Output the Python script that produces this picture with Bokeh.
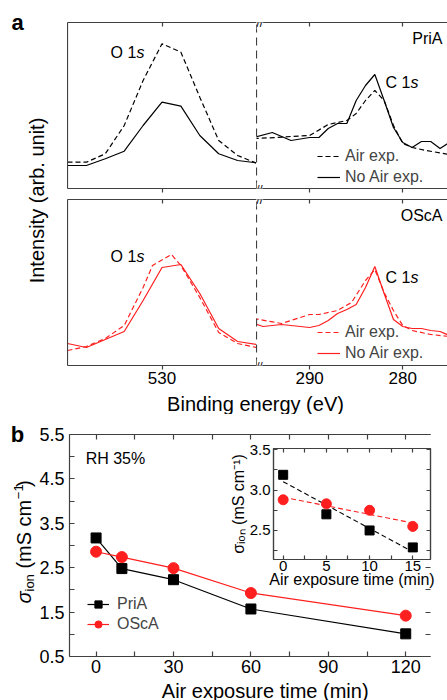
import numpy as np
from bokeh.plotting import figure
from bokeh.models import (Range1d, LinearAxis, FixedTicker, NumeralTickFormatter, Label,
                          Legend, LegendItem, GridBox)
from bokeh.layouts import row, column
from bokeh.embed import file_html
from bokeh.resources import INLINE

FONT = "Liberation Sans"
AX = "#404040"
RED = "#ff1f1f"

# ---------------- data: panel a (XPS, arbitrary intensity units) ----------------
ev_o = [540, 538, 536, 534, 532, 530, 528, 526, 524, 522, 520]
pria_o_air = [26.3, 26.3, 34.7, 63, 108, 144.7, 136.3, 91.3, 48, 33, 25.3]
pria_o_noair = [23, 23, 29.7, 37.3, 63, 86.3, 82.3, 53, 34.7, 28, 25.7]

ev_osca_o_air = [540, 538, 536, 534, 532, 531, 529, 528, 526, 524, 522, 520]
osca_o_air = [15, 19, 27, 40, 78, 100, 111, 100, 68, 33, 22, 18]
osca_o_noair = [22, 18, 26, 34, 65, 98, 101, 72, 37, 24, 21]

ev_pria_c_noair = [296, 294, 292, 290, 289, 288, 287, 286, 285, 284, 283, 282, 281, 280, 279, 278, 277, 276, 275]
pria_c_noair = [51, 56, 48, 51, 51, 60, 65, 65, 88, 103, 114, 88, 61, 46, 41, 47, 47, 40, 46]
ev_pria_c_air = [296, 293.5, 292, 290, 288, 286, 285, 284, 283, 282, 281, 280, 279, 277.5, 275]
pria_c_air = [50, 51, 52, 53, 64, 68, 75, 88, 98, 88, 63, 45, 41, 38, 34]

ev_osca_c_noair = [296, 295, 293, 290, 289, 288, 287, 286, 285, 284, 283, 282, 281, 280, 279, 278, 277, 276, 275]
osca_c_noair = [42, 39, 41, 38, 40, 45, 52, 56, 61, 78, 99, 72, 46, 39, 37, 37, 35, 34, 30]
ev_osca_c_air = [296, 293, 290, 289, 287, 285.5, 284, 283, 282, 281, 280, 279, 277, 275]
osca_c_air = [47, 42, 51, 51, 55, 63, 85, 96, 73, 55, 40, 35, 31, 29]

# ---------------- data: panel b ----------------
time_min = [0, 10, 30, 60, 120]
pria_sigma = [3.17, 2.48, 2.23, 1.57, 1.01]
osca_sigma = [2.86, 2.74, 2.49, 1.93, 1.42]

time_inset = [0, 5, 10, 15]
pria_inset = [3.19, 2.70, 2.50, 2.29]
osca_inset = [2.88, 2.83, 2.75, 2.55]

x_ticks_b = [0, 30, 60, 90, 120]
x_minor_b = [15, 45, 75, 105]
y_ticks_b = [0.5, 1.5, 2.5, 3.5, 4.5, 5.5]
y_minor_b = [1.0, 2.0, 3.0, 4.0, 5.0]
x_ticks_in = [0, 5, 10, 15]
x_minor_in = [2.5, 7.5, 12.5]
y_ticks_in = [2.5, 3.0, 3.5]
y_minor_in = [2.25, 2.75, 3.25]


def base_fig(w, h, xr, yr, ml, mr, mt, mb):
    p = figure(width=w, height=h, x_range=xr, y_range=yr, output_backend="svg",
               toolbar_location=None, x_axis_location=None, y_axis_location=None,
               min_border_left=ml, min_border_right=mr, min_border_top=mt, min_border_bottom=mb)
    p.outline_line_color = None
    p.grid.grid_line_color = None
    p.border_fill_color = "white"
    return p


def add_axis(p, side, ticks, minor=(), labels=False, tin=0, tout=0, dash=None,
             fs="17px", fmt=None, standoff=2):
    ax = LinearAxis(ticker=FixedTicker(ticks=list(ticks), minor_ticks=list(minor)))
    ax.axis_line_color = AX
    ax.axis_line_width = 1.2
    if dash:
        ax.axis_line_dash = dash
    ax.major_tick_line_color = AX
    ax.minor_tick_line_color = AX
    ax.major_tick_line_width = 1.2
    ax.minor_tick_line_width = 1.2
    ax.major_tick_in = tin
    ax.major_tick_out = tout
    ax.minor_tick_in = tin
    ax.minor_tick_out = tout
    if labels:
        ax.major_label_text_font = FONT
        ax.major_label_text_font_size = fs
        ax.major_label_text_color = "black"
        ax.major_label_standoff = standoff
    else:
        ax.major_label_text_color = None
        ax.major_label_text_font_size = "0px"
        ax.major_label_standoff = 0
    if fmt:
        ax.formatter = NumeralTickFormatter(format=fmt)
    p.add_layout(ax, side)
    return ax


def txt(p, x, y, text, fs="16px", align="left", baseline="middle", style="normal",
        angle=0, x_offset=0, y_offset=0, bg=None):
    lab = Label(x=x, y=y, text=text, text_font=FONT, text_font_size=fs, text_color="black",
                text_align=align, text_baseline=baseline, text_font_style=style,
                angle=angle, x_offset=x_offset, y_offset=y_offset)
    if bg:
        lab.background_fill_color = bg
    p.add_layout(lab)
    return lab


def spec_legend(p, r_air, r_no, loc):
    leg = Legend(items=[LegendItem(label="Air exp.", renderers=[r_air]),
                        LegendItem(label="No Air exp.", renderers=[r_no])],
                 location=loc, orientation="vertical", border_line_color=None,
                 background_fill_alpha=0, label_text_font=FONT, label_text_font_size="16px",
                 glyph_width=23, glyph_height=20, label_height=20, label_standoff=5,
                 spacing=1, padding=0, margin=0)
    p.add_layout(leg)


# ================= panel a =================
XL = (540, 520)
XR = (295.7, 275.2)
YA = (0, 166)


def left_panel(h, mt, mb, labels):
    p = base_fig(189, h, Range1d(*XL), Range1d(*YA), 0, 0, mt, mb)
    add_axis(p, "left", [])
    add_axis(p, "above", [530], tin=4)
    add_axis(p, "below", [530], tout=4, labels=labels, standoff=2)
    return p


def right_panel(h, mt, mb, labels):
    p = base_fig(191, h, Range1d(*XR), Range1d(*YA), 0, 0, mt, mb)
    add_axis(p, "left", [], dash="8 5")
    add_axis(p, "above", [290, 280], tin=4)
    add_axis(p, "below", [290, 280], tout=4, labels=labels, standoff=2)
    txt(p, XR[0], YA[1], "//", fs="12px", bg="white")
    txt(p, XR[0], YA[0], "//", fs="11px", bg="white")
    return p


tl = left_panel(194, 22, 6, False)
tl.line(ev_o, pria_o_air, color="black", line_width=1.2, line_dash="5 3")
tl.line(ev_o, pria_o_noair, color="black", line_width=1.2)
txt(tl, 535.45, 136, "O 1")
txt(tl, 535.45, 136, "s", style="italic", x_offset=26)

tr = right_panel(194, 22, 6, False)
r1 = tr.line(ev_pria_c_air, pria_c_air, color="black", line_width=1.2, line_dash="5 3")
r2 = tr.line(ev_pria_c_noair, pria_c_noair, color="black", line_width=1.2)
txt(tr, 281.85, 106, "C 1")
txt(tr, 281.85, 106, "s", style="italic", x_offset=25)
txt(tr, 275.74, 150, "PriA", align="right")
spec_legend(tr, r1, r2, (61, 1))

bl = left_panel(198, 5, 27, True)
bl.line(ev_osca_o_air, osca_o_air, color=RED, line_width=1.2, line_dash="5 3")
bl.line(ev_o, osca_o_noair, color=RED, line_width=1.2)
txt(bl, 535.45, 109, "O 1")
txt(bl, 535.45, 109, "s", style="italic", x_offset=26)

br = right_panel(198, 5, 27, True)
r3 = br.line(ev_osca_c_air, osca_c_air, color=RED, line_width=1.2, line_dash="5 3")
r4 = br.line(ev_osca_c_noair, osca_c_noair, color=RED, line_width=1.2)
txt(br, 281.85, 88, "C 1")
txt(br, 281.85, 88, "s", style="italic", x_offset=25)
txt(br, 275.74, 150, "OScA", align="right")
spec_legend(br, r3, r4, (61, 2))

xlab_a = base_fig(380, 22, Range1d(0, 380), Range1d(0, 22), 0, 0, 0, 0)
txt(xlab_a, 188, 11, "Binding energy (eV)", fs="20px", align="center")

left_a = base_fig(67, 414, Range1d(0, 67), Range1d(0, 414), 0, 0, 0, 0)
txt(left_a, 17, 392, "a", fs="22px", align="center", style="bold")
txt(left_a, 36, 214, "Intensity (arb. unit)", fs="20px", align="center", angle=np.pi / 2)

panel_a = row(left_a, column(row(tl, tr), row(bl, br), xlab_a))

# ================= panel b =================
XB = (-10.3, 129.6)
YB = (0.5, 5.5)
pb = base_fig(411, 266, Range1d(*XB), Range1d(*YB), 31, 0, 20, 24)
add_axis(pb, "left", y_ticks_b, y_minor_b, labels=True, tin=5, fs="18px", fmt="0.0", standoff=5)
add_axis(pb, "below", x_ticks_b, x_minor_b, labels=True, tin=5, fs="18px", standoff=3)
add_axis(pb, "above", x_ticks_b, x_minor_b, tin=5)
ax_r = add_axis(pb, "right", y_ticks_b, y_minor_b, tin=5)
ax_r.axis_line_color = None

lp = pb.line(time_min, pria_sigma, color="black", line_width=1.2)
sp = pb.scatter(time_min, pria_sigma, marker="square", size=10, color="black")
lo = pb.line(time_min, osca_sigma, color=RED, line_width=1.2)
so = pb.scatter(time_min, osca_sigma, marker="circle", size=11, color=RED)

legb = Legend(items=[LegendItem(label="PriA", renderers=[lp, sp]),
                     LegendItem(label="OScA", renderers=[lo, so])],
              location=(18, 23), orientation="vertical", border_line_color=None,
              background_fill_alpha=0, label_text_font=FONT, label_text_font_size="16px",
              glyph_width=22, glyph_height=18, label_height=18, label_standoff=8,
              spacing=2, padding=0, margin=0)
pb.add_layout(legb)


def bx(ix):
    return XB[0] + (ix - 67) * (XB[1] - XB[0]) / 380


def by(iy):
    return YB[1] - (iy - 434) * (YB[1] - YB[0]) / 222


txt(pb, bx(84), by(458), "RH 35%")

# ---------------- inset ----------------
XI = (-1.12, 17.05)
YI = (2.14, 3.516)
ins = base_fig(222, 160, Range1d(*XI), Range1d(*YI), 48, 17, 10, 39)
ins.border_fill_color = None
ins.background_fill_color = "white"
ins.outline_line_color = AX
ins.outline_line_width = 1.2
ax_il = add_axis(ins, "left", y_ticks_in, y_minor_in, labels=True, tin=4, fs="15px", fmt="0.0", standoff=3)
ax_ib = add_axis(ins, "below", x_ticks_in, x_minor_in, labels=True, tin=4, fs="15px", standoff=1)
add_axis(ins, "above", x_ticks_in, x_minor_in, tin=4)
add_axis(ins, "right", y_ticks_in, y_minor_in, tin=4)
for ax, lab in ((ax_il, "σᵢₒₙ (mS cm⁻¹)"), (ax_ib, "Air exposure time (min)")):
    ax.axis_label = lab
    ax.axis_label_text_font = FONT
    ax.axis_label_text_font_size = "16px"
    ax.axis_label_text_font_style = "normal"
    ax.axis_label_text_color = "black"
ax_il.axis_label_standoff = 0
ax_ib.axis_label_standoff = -3

fit_p = np.polyval(np.polyfit(time_inset, pria_inset, 1), time_inset)
fit_o = np.polyval(np.polyfit(time_inset, osca_inset, 1), time_inset)
ins.line(time_inset, fit_p, color="black", line_width=1.1, line_dash="5 3")
ins.line(time_inset, fit_o, color=RED, line_width=1.1, line_dash="5 3")
ins.scatter(time_inset, pria_inset, marker="square", size=9, color="black")
ins.scatter(time_inset, osca_inset, marker="circle", size=10, color=RED)

gb = GridBox(children=[(pb, 0, 0, 3, 2), (ins, 1, 1)],
             rows=["24px", "160px", "82px"], cols=["189px", "222px"], spacing=0)

# left strip of panel b: letter and composite y label
left_b = base_fig(36, 286, Range1d(0, 36), Range1d(0, 286), 0, 0, 0, 0)


def ly(iy):
    return 700 - iy


txt(left_b, 17, ly(434), "b", fs="22px", align="center", style="bold")
# (text, font px, x centre, advance along the label, style, gap before)
pieces = [("σ", 20, 23, 12, "italic", 0),
          ("ion", 13, 28.5, 17.3, "normal", 0),
          ("(mS cm", 20, 23, 68.9, "normal", 5.6),
          ("−1", 13, 17.5, 11.6, "normal", 0.5),
          (")", 20, 23, 7, "normal", 0.5)]
ypos = 603
for t, f, xx, ln, st, gap in pieces:
    ypos -= gap
    txt(left_b, xx, ly(ypos), t, fs="%dpx" % f, style=st, angle=np.pi / 2)
    ypos -= ln

xlab_b = base_fig(411, 20, Range1d(0, 411), Range1d(0, 20), 0, 0, 0, 0)
txt(xlab_b, 228.7, 10, "Air exposure time (min)", fs="20px", align="center")

panel_b = row(left_b, column(gb, xlab_b))

layout = column(panel_a, panel_b)
open("out.html", "w").write(file_html(layout, INLINE))
